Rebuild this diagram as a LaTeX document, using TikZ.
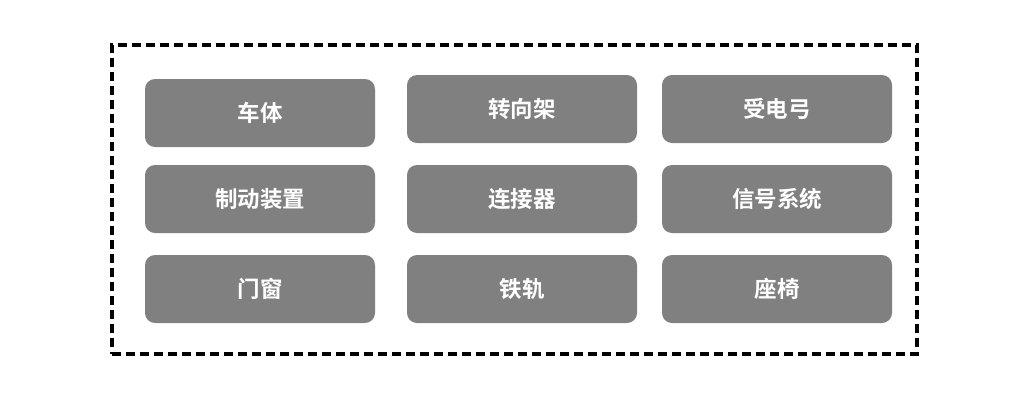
\documentclass[tikz,border=0pt]{standalone}
\usepackage{fontspec}
\newfontfamily\cjk{Noto Sans CJK SC}[BoldFont={* Bold}]
\begin{document}
\begin{tikzpicture}[x=1pt,y=-1pt,
  itembox/.style={draw=none,fill=black!50,rounded corners=10pt,minimum width=230pt,minimum height=68pt,inner sep=0pt,text=white,font=\cjk\bfseries\fontsize{22.5}{22.5}\selectfont},
  frame/.style={draw=black,line width=3.2pt,dash pattern=on 9pt off 5pt}]
\useasboundingbox (0,0) rectangle (1034,413);
\node[frame,minimum width=805pt,minimum height=309pt,inner sep=0pt] (outer) at (514.5,199.5) {};
\node[itembox] (a) at (260,113) {车体};
\node[itembox] (b) at (522,109) {转向架};
\node[itembox] (c) at (777,109) {受电弓};
\node[itembox] (d) at (260,199) {制动装置};
\node[itembox] (e) at (522,199) {连接器};
\node[itembox] (f) at (777,199) {信号系统};
\node[itembox] (g) at (260,289) {门窗};
\node[itembox] (h) at (522,289) {铁轨};
\node[itembox] (i) at (777,289) {座椅};
\end{tikzpicture}
\end{document}
